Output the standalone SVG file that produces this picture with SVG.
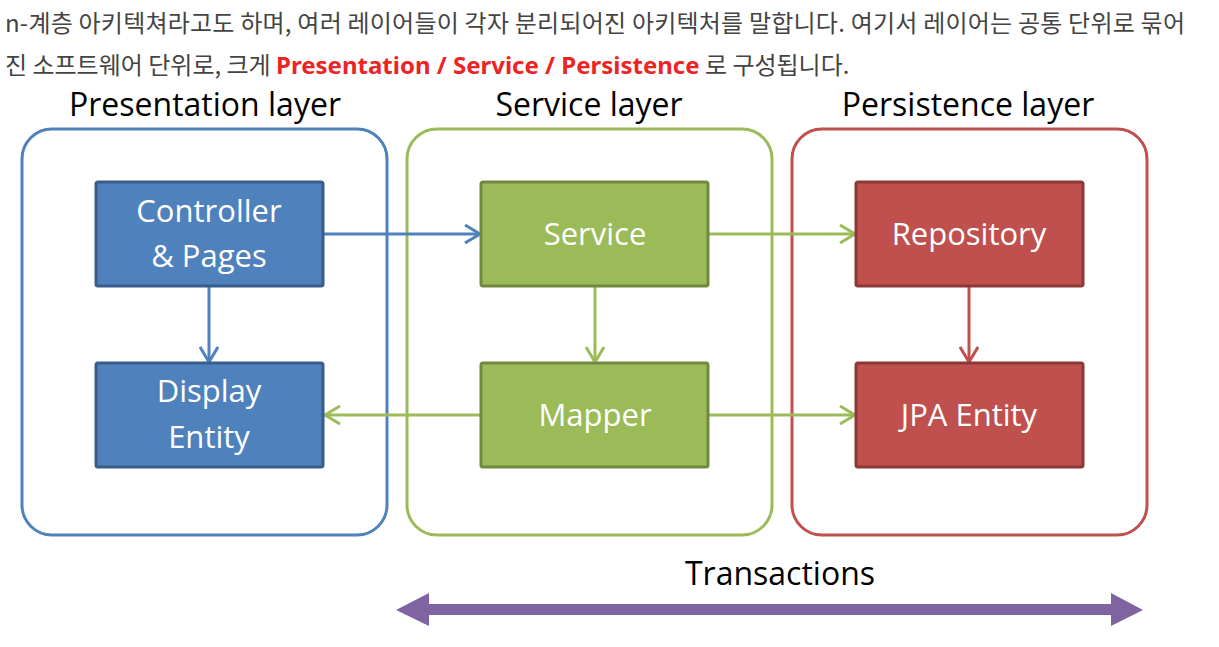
<svg xmlns="http://www.w3.org/2000/svg" width="1219" height="647" viewBox="0 0 1219 647">
<style>
.intro{font-family:"Noto Sans CJK KR","Noto Sans",sans-serif;font-size:24px;fill:#444}
.hl{fill:#ee2323;font-weight:bold;font-family:"Noto Sans","Noto Sans CJK KR",sans-serif}
.title{font-family:"Open Sans","Noto Sans",sans-serif;font-size:32px;fill:#000;text-anchor:middle}
.ntext{font-family:"Open Sans","Noto Sans",sans-serif;font-size:31px;fill:#fff;text-anchor:middle}
.layer{fill:none;stroke-width:3}
.node{stroke-width:3}
.blue{fill:#4f81bd;stroke:#385d8a}
.green{fill:#9bbb59;stroke:#71893f}
.red{fill:#c0504d;stroke:#8c3836}
.conn{fill:none;stroke-width:3}
</style>
<defs>
<marker id="ab" markerUnits="userSpaceOnUse" markerWidth="20" markerHeight="24" refX="16" refY="10" orient="auto"><path d="M1,1 L16,10 L1,19" fill="none" stroke="#4f81bd" stroke-width="3"/></marker>
<marker id="ag" markerUnits="userSpaceOnUse" markerWidth="20" markerHeight="24" refX="16" refY="10" orient="auto"><path d="M1,1 L16,10 L1,19" fill="none" stroke="#9bbb59" stroke-width="3"/></marker>
<marker id="ar" markerUnits="userSpaceOnUse" markerWidth="20" markerHeight="24" refX="16" refY="10" orient="auto"><path d="M1,1 L16,10 L1,19" fill="none" stroke="#c0504d" stroke-width="3"/></marker>
</defs>
<rect width="1219" height="647" fill="#fff"/>
<g id="intro">
<text class="intro" x="5" y="32" textLength="1180" lengthAdjust="spacing">n-계층 아키텍쳐라고도 하며, 여러 레이어들이 각자 분리되어진 아키텍처를 말합니다. 여기서 레이어는 공통 단위로 묶어</text>
<text class="intro" x="5" y="74">진 소프트웨어 단위로, 크게 <tspan class="hl">Presentation / Service / Persistence</tspan> 로 구성됩니다.</text>
</g>
<g id="presentation-layer">
<rect class="layer" x="22" y="129" width="365" height="406" rx="30" stroke="#4f81bd"/>
<text class="title" x="205" y="116">Presentation layer</text>
</g>
<g id="service-layer">
<rect class="layer" x="407" y="129" width="365" height="406" rx="30" stroke="#9bbb59"/>
<text class="title" x="589" y="116">Service layer</text>
</g>
<g id="persistence-layer">
<rect class="layer" x="792" y="129" width="355" height="406" rx="30" stroke="#c0504d"/>
<text class="title" x="968" y="116">Persistence layer</text>
</g>
<g id="connectors">
<line class="conn" x1="324" y1="234" x2="480" y2="234" stroke="#4f81bd" marker-end="url(#ab)"/>
<line class="conn" x1="209" y1="286" x2="209" y2="362" stroke="#4f81bd" marker-end="url(#ab)"/>
<line class="conn" x1="595" y1="286" x2="595" y2="362" stroke="#9bbb59" marker-end="url(#ag)"/>
<line class="conn" x1="708" y1="234" x2="855" y2="234" stroke="#9bbb59" marker-end="url(#ag)"/>
<line class="conn" x1="481" y1="415" x2="325" y2="415" stroke="#9bbb59" marker-end="url(#ag)"/>
<line class="conn" x1="708" y1="415" x2="855" y2="415" stroke="#9bbb59" marker-end="url(#ag)"/>
<line class="conn" x1="969" y1="286" x2="969" y2="362" stroke="#c0504d" marker-end="url(#ar)"/>
</g>
<g id="controller">
<rect class="node blue" x="96" y="182" width="227" height="104" rx="2"/>
<text class="ntext" x="209" y="222">Controller</text>
<text class="ntext" x="209" y="267">&amp; Pages</text>
</g>
<g id="display-entity">
<rect class="node blue" x="96" y="363" width="227" height="104" rx="2"/>
<text class="ntext" x="209" y="402">Display</text>
<text class="ntext" x="209" y="448">Entity</text>
</g>
<g id="service">
<rect class="node green" x="481" y="182" width="227" height="104" rx="2"/>
<text class="ntext" x="595" y="245">Service</text>
</g>
<g id="mapper">
<rect class="node green" x="481" y="363" width="227" height="104" rx="2"/>
<text class="ntext" x="595" y="426">Mapper</text>
</g>
<g id="repository">
<rect class="node red" x="856" y="182" width="227" height="104" rx="2"/>
<text class="ntext" x="969" y="245">Repository</text>
</g>
<g id="jpa-entity">
<rect class="node red" x="856" y="363" width="227" height="104" rx="2"/>
<text class="ntext" x="969" y="426">JPA Entity</text>
</g>
<g id="transactions">
<text class="title" x="780" y="585" font-size="31">Transactions</text>
<polygon points="396,610 429,593 429,604 1111,604 1111,593 1143,610 1111,626 1111,615 429,615 429,626" fill="#8064a2"/>
</g>
</svg>
